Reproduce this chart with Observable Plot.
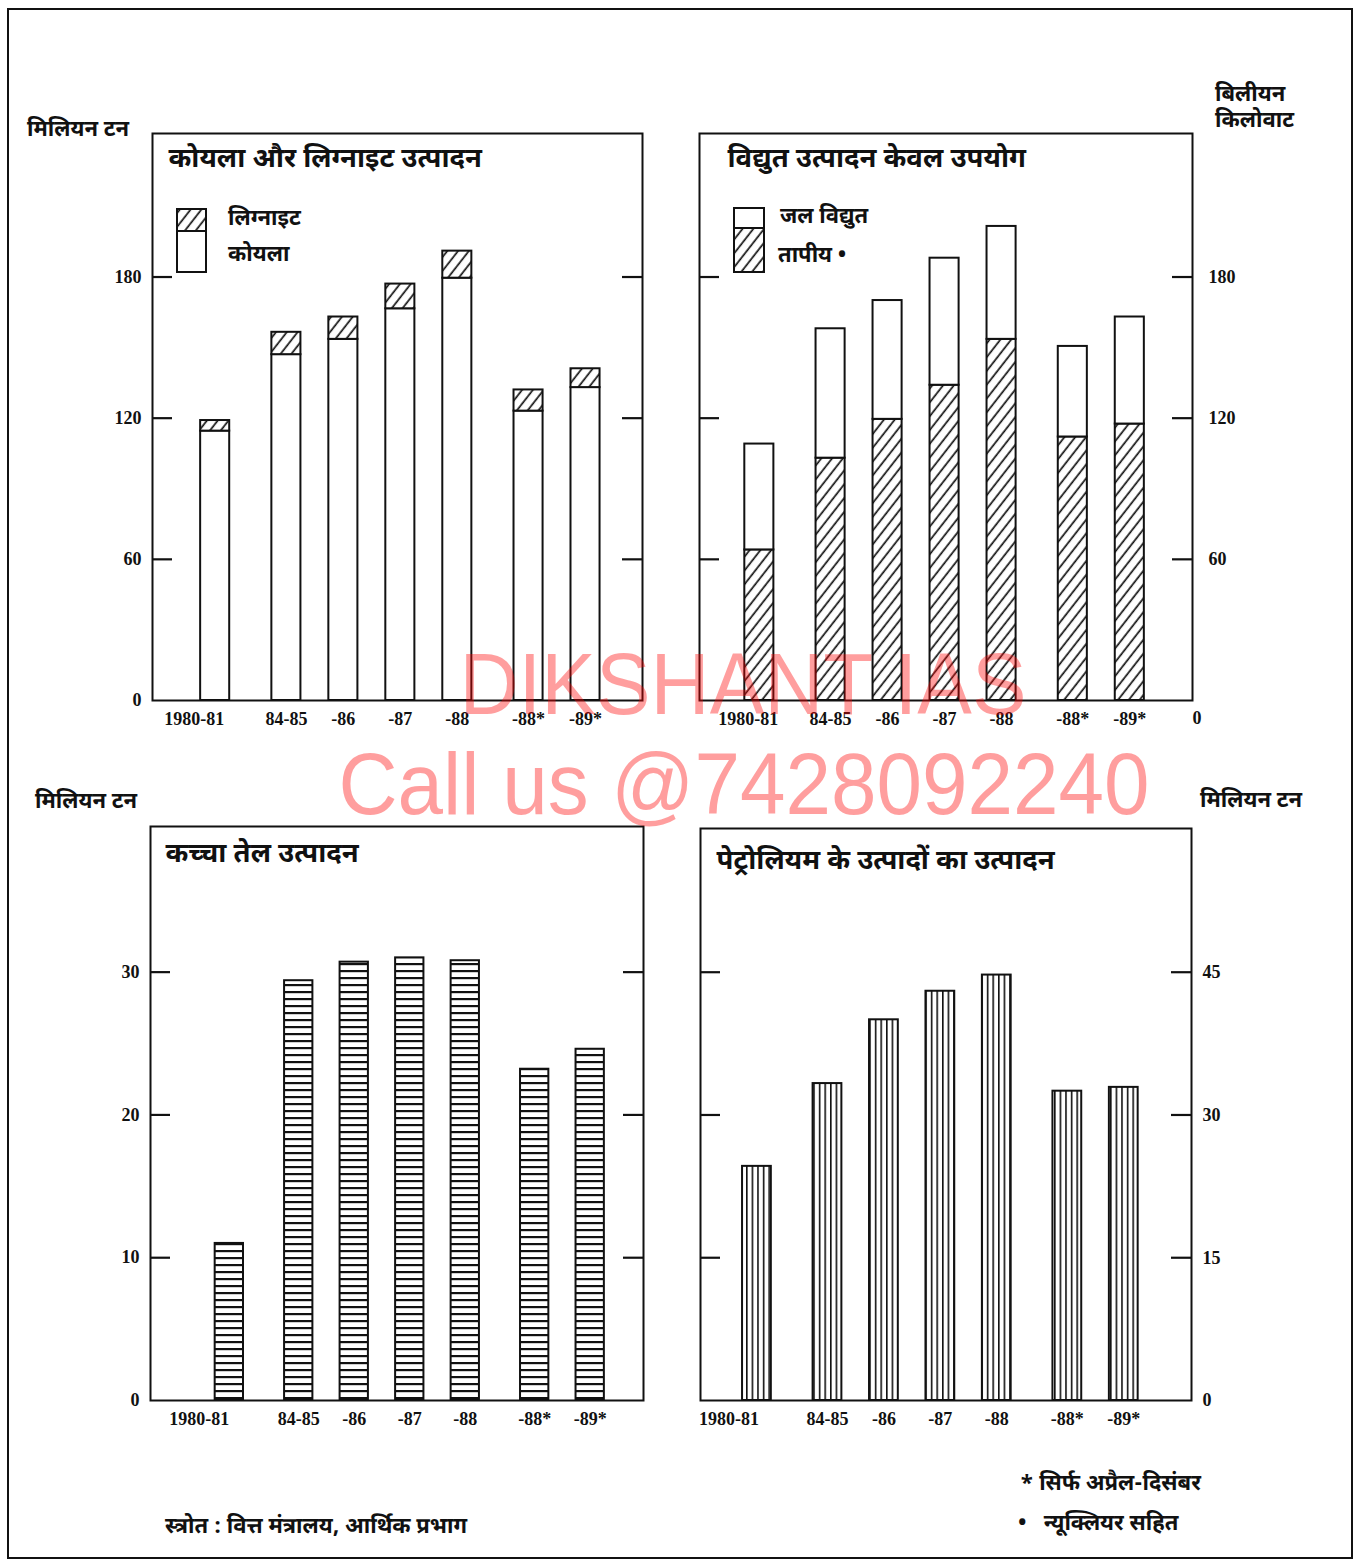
<!DOCTYPE html>
<html><head><meta charset="utf-8">
<script src="https://cdn.jsdelivr.net/npm/d3@7"></script>
<script src="https://cdn.jsdelivr.net/npm/@observablehq/plot@0.6"></script>
<style>
body{margin:0;background:#fff;}
#page{position:relative;width:1356px;height:1564px;overflow:hidden;background:#fff;}
.abs{position:absolute;white-space:pre;line-height:1;}
.hi{font-family:'Noto Sans Devanagari','Noto Sans',sans-serif;font-weight:700;color:#111;}
.plot{position:absolute;}
.wm{position:absolute;white-space:nowrap;line-height:1;font-family:'Liberation Sans',Arial,sans-serif;font-size:88px;color:rgba(255,0,0,0.38);transform:translateX(-50%) scaleX(0.93);z-index:10;}
</style></head><body><div id="page"></div>
<script>
// ---- data ----
const years = ["1980-81","84-85","-86","-87","-88","-88*","-89*"];
const coal = [114.5, 147, 153.5, 166.5, 179.5, 123, 133];
const lignite = [4.5, 9.5, 9.5, 10.5, 11.5, 9, 8];
const thermal = [64, 103, 119.5, 134, 153.5, 112, 117.5];
const hydro = [45, 55, 50.5, 54, 48, 38.5, 45.5];
const crude = [11, 29.4, 30.7, 31, 30.8, 23.2, 24.6];
const petro = [24.6, 33.3, 40, 43, 44.7, 32.5, 32.9];
const coalTicks = [0, 60, 120, 180];
const powerTicks = [0, 60, 120, 180];
const crudeTicks = [0, 10, 20, 30];
const petroTicks = [0, 15, 30, 45];

const titles = {
  coal: "कोयला और लिग्नाइट उत्पादन",
  power: "विद्युत उत्पादन केवल उपयोग",
  crude: "कच्चा तेल उत्पादन",
  petro: "पेट्रोलियम के उत्पादों का उत्पादन"
};

// ---- layout helpers ----
const slot = i => i + (i >= 1 ? 0.25 : 0) + (i >= 5 ? 0.25 : 0);
const positions = years.map((_, i) => slot(i));
const rows = years.map((year, i) => ({
  year, pos: positions[i],
  coal: coal[i], lignite: lignite[i],
  thermal: thermal[i], hydro: hydro[i],
  crude: crude[i], petro: petro[i]
}));
const hw = 0.255;
const page = document.getElementById("page");
const INK = "#111";
const DEVA = "'Noto Sans Devanagari','Noto Sans',sans-serif";

// pattern defs
const defsSvg = document.createElementNS("http://www.w3.org/2000/svg", "svg");
defsSvg.setAttribute("width", 0); defsSvg.setAttribute("height", 0);
defsSvg.style.position = "absolute";
defsSvg.innerHTML = `<defs>
<pattern id="diag" width="8.5" height="8.5" patternUnits="userSpaceOnUse" patternTransform="rotate(38)">
  <rect width="8.5" height="8.5" fill="white"/><line x1="4" y1="0" x2="4" y2="8.5" stroke="${INK}" stroke-width="1.7"/></pattern>
<pattern id="hstripe" width="10" height="7" patternUnits="userSpaceOnUse">
  <rect width="10" height="7" fill="white"/><rect y="0" width="10" height="2.2" fill="${INK}"/></pattern>
<pattern id="vstripe" width="5.6" height="10" patternUnits="userSpaceOnUse">
  <rect width="5.6" height="10" fill="white"/><rect x="0" width="1.6" height="10" fill="${INK}"/></pattern>
</defs>`;
page.appendChild(defsSvg);

// outer border
const border = document.createElement("div");
Object.assign(border.style, {position:"absolute", left:"7px", top:"8px", width:"1342px", height:"1547px", border:"2px solid #111"});
page.appendChild(border);

function panel({title, titleDx, titleDy, marks, xDomain, yDomain, yTicks, anchor, width, height, ml, mr, mt, mb, tickPad, firstDx, zeroDx = 0, zeroDy = 0, left, top}) {
  const plotW = width - ml - mr;
  const axisFont = {fontSize: 18, fontWeight: "bold"};
  const chart = Plot.plot({
    width, height, marginLeft: ml, marginRight: mr, marginTop: mt, marginBottom: mb,
    style: {fontFamily: "'Liberation Serif', serif", fontSize: "18px", fontWeight: "bold", background: "transparent", color: INK, overflow: "visible"},
    x: {type: "linear", domain: xDomain},
    y: {domain: yDomain},
    marks: [
      ...marks,
      Plot.frame({stroke: INK, strokeWidth: 2}),
      Plot.tickY(yTicks.filter(d => d > 0), {y: d => d, stroke: INK, strokeWidth: 2.2, insetRight: plotW - 20}),
      Plot.tickY(yTicks.filter(d => d > 0), {y: d => d, stroke: INK, strokeWidth: 2.2, insetLeft: plotW - 20}),
      Plot.axisY({ticks: yTicks.filter(d => d > 0), anchor, tickSize: 0, tickPadding: tickPad, tickFormat: d => String(d), ...axisFont}),
      Plot.axisY({ticks: [0], anchor, tickSize: 0, tickPadding: tickPad, tickFormat: d => String(d), dx: zeroDx, dy: zeroDy, ...axisFont}),
      Plot.axisX({ticks: positions.slice(1), anchor: "bottom", tickSize: 0, tickPadding: 12, tickFormat: d => years[positions.indexOf(d)], ...axisFont}),
      Plot.axisX({ticks: positions.slice(0, 1), anchor: "bottom", tickSize: 0, tickPadding: 12, dx: firstDx, tickFormat: d => years[positions.indexOf(d)], ...axisFont}),
      Plot.text([title], {text: d => d, frameAnchor: "top-left", dx: titleDx, dy: titleDy, textAnchor: "start", lineAnchor: "middle", fontSize: 27.5, fontWeight: "bold", fontFamily: DEVA, fill: INK})
    ]
  });
  chart.classList.add("plot");
  chart.style.left = left + "px";
  chart.style.top = top + "px";
  page.appendChild(chart);
}

const barStyle = {stroke: INK, strokeWidth: 2};

// Panel 1: coal & lignite
panel({
  title: titles.coal, titleDx: 16, titleDy: 25, yTicks: coalTicks, anchor: "left", tickPad: 11, firstDx: -21,
  xDomain: [-1.1, 7.5], yDomain: [0, 241],
  width: 560, height: 620, ml: 52, mr: 18, mt: 10, mb: 43, left: 100, top: 123,
  marks: [
    Plot.rectY(rows, {x1: d => d.pos - hw, x2: d => d.pos + hw, y1: d => 0, y2: d => d.coal, fill: "white", ...barStyle}),
    Plot.rectY(rows, {x1: d => d.pos - hw, x2: d => d.pos + hw, y1: d => d.coal, y2: d => d.coal + d.lignite, fill: "url(#diag)", ...barStyle})
  ]
});

// Panel 2: electricity
panel({
  title: titles.power, titleDx: 28, titleDy: 25, yTicks: powerTicks, anchor: "right", tickPad: 16, firstDx: -11, zeroDx: -16, zeroDy: 18,
  xDomain: [-1.05, 7.6], yDomain: [0, 241],
  width: 580, height: 620, ml: 9, mr: 78, mt: 10, mb: 43, left: 690, top: 123,
  marks: [
    Plot.rectY(rows, {x1: d => d.pos - hw, x2: d => d.pos + hw, y1: d => 0, y2: d => d.thermal, fill: "url(#diag)", ...barStyle}),
    Plot.rectY(rows, {x1: d => d.pos - hw, x2: d => d.pos + hw, y1: d => d.thermal, y2: d => d.thermal + d.hydro, fill: "white", ...barStyle})
  ]
});

// Panel 3: crude oil
panel({
  title: titles.crude, titleDx: 15, titleDy: 27, yTicks: crudeTicks, anchor: "left", tickPad: 11, firstDx: -30,
  xDomain: [-1.42, 7.46], yDomain: [0, 40.2],
  width: 560, height: 629, ml: 50, mr: 17, mt: 10, mb: 45, left: 100, top: 816,
  marks: [
    Plot.rectY(rows, {x1: d => d.pos - hw, x2: d => d.pos + hw, y1: d => 0, y2: d => d.crude, fill: "url(#hstripe)", ...barStyle})
  ]
});

// Panel 4: petroleum products
panel({
  title: titles.petro, titleDx: 16, titleDy: 32, yTicks: petroTicks, anchor: "right", tickPad: 11, firstDx: -28,
  xDomain: [-1.0, 7.7], yDomain: [0, 60.1],
  width: 580, height: 627, ml: 10, mr: 79, mt: 10, mb: 45, left: 690, top: 818,
  marks: [
    Plot.rectY(rows, {x1: d => d.pos - hw, x2: d => d.pos + hw, y1: d => 0, y2: d => d.petro, fill: "url(#vstripe)", ...barStyle})
  ]
});

// ---- text labels ----
function label(text, x, yc, size, extra) {
  const el = document.createElement("div");
  el.className = "abs hi";
  el.textContent = text;
  el.style.left = x + "px";
  el.style.top = yc + "px";
  el.style.fontSize = size + "px";
  el.style.transform = "translateY(-50%)";
  if (extra) Object.assign(el.style, extra);
  page.appendChild(el);
  return el;
}
label("मिलियन टन", 27, 131, 22);
label("बिलीयन", 1215, 96, 22);
label("किलोवाट", 1215, 122, 22);
label("मिलियन टन", 35, 803, 22);
label("मिलियन टन", 1200, 802, 22);
label("स्त्रोत : वित्त मंत्रालय, आर्थिक प्रभाग", 165, 1528, 22);
label("* सिर्फ अप्रैल-दिसंबर", 1020, 1485, 22);
label("•   न्यूक्लियर सहित", 1018, 1525, 22);

// legends
function swatch(x, y, w, parts) {
  const svg = document.createElementNS("http://www.w3.org/2000/svg", "svg");
  const h = parts.reduce((s, p) => s + p.h, 0);
  svg.setAttribute("width", w + 2); svg.setAttribute("height", h + 2);
  svg.style.position = "absolute"; svg.style.left = (x - 1) + "px"; svg.style.top = (y - 1) + "px";
  let yy = 1, inner = "";
  for (const p of parts) {
    inner += `<rect x="1" y="${yy}" width="${w}" height="${p.h}" fill="${p.fill}" stroke="${INK}" stroke-width="2"/>`;
    yy += p.h;
  }
  svg.innerHTML = inner;
  page.appendChild(svg);
}
swatch(177, 209, 29, [{h: 22, fill: "url(#diag)"}, {h: 41, fill: "white"}]);
label("लिग्नाइट", 228, 220, 22);
label("कोयला", 228, 256, 22);
swatch(734, 208, 30, [{h: 20, fill: "white"}, {h: 44, fill: "url(#diag)"}]);
label("जल विद्युत", 780, 218, 22);
label("तापीय •", 778, 257, 22);

// watermark
const wm1 = document.createElement("div"); wm1.className = "wm"; wm1.textContent = "DIKSHANT IAS";
wm1.style.left = "743px"; wm1.style.top = "640px"; page.appendChild(wm1);
const wm2 = document.createElement("div"); wm2.className = "wm"; wm2.textContent = "Call us @7428092240";
wm2.style.left = "744px"; wm2.style.top = "740px"; page.appendChild(wm2);
</script></body></html>
